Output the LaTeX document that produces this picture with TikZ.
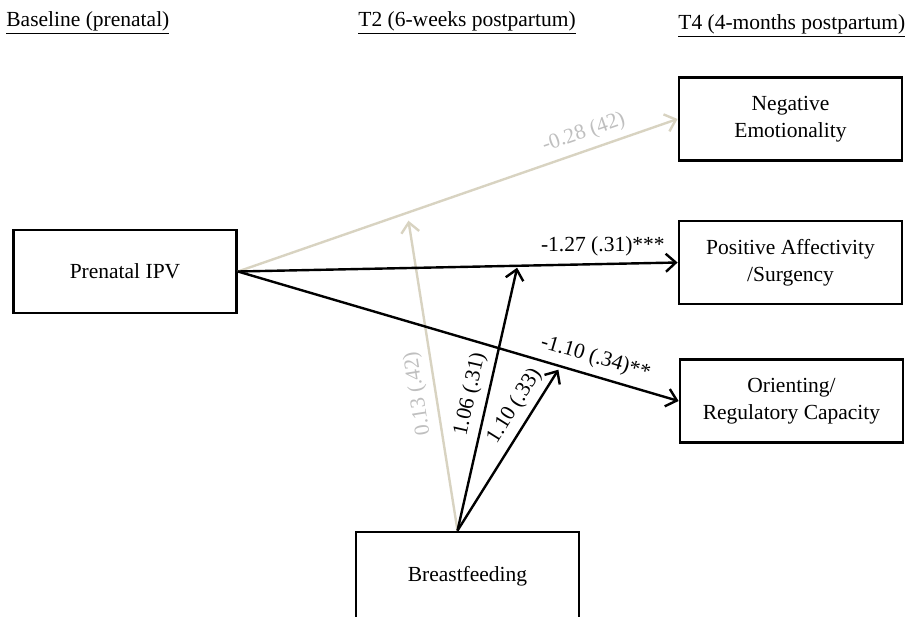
\documentclass[tikz,border=0pt]{standalone}
\usepackage{fontspec}
\setmainfont{Liberation Serif}
\definecolor{GrisCheminNS}{HTML}{D8D3C1}
\definecolor{GrisTexteNS}{HTML}{BFBFBF}
\usetikzlibrary{arrows.meta}
\usetikzlibrary{calc}

\begin{document}
\begin{tikzpicture}
	[x=0.5pt, y=-0.5pt,
	every node/.style = {font=\fontsize{10.75}{13.3}\selectfont},
	boite/.style = {shape=rectangle, draw=black, line width=1.4pt, align=center,
		minimum width=111.5pt, minimum height=41.5pt},
	entete/.style = {anchor=base west, inner sep=0pt},
	chemin/.style = {draw=black, line width=1.2pt, -{Straight Barb[length=5pt,width=9pt]}},
	cheminNS/.style = {chemin, draw=GrisCheminNS},
	coefNS/.style = {text=GrisTexteNS}]
	\clip (0,0) rectangle (905,616);
	% temps de mesure
	\node[entete] (t0) at (6,26) {\underline{Baseline (prenatal)}};
	\node[entete] (t2) at (358,26) {\underline{T2 (6-weeks postpartum)}};
	\node[entete] (t4) at (678,29) {\underline{T4 (4-months postpartum)}};
	% variables
	\node[boite] (prenatal) at (125,271.5) {Prenatal IPV};
	\node[boite] (negemo) at (790.5,119) {Negative\\Emotionality};
	\node[boite] (posaff) at (790.5,262.5) {Positive Affectivity\\/Surgency};
	\node[boite] (orient) at (791.5,401) {Orienting/\\Regulatory Capacity};
	\node[boite, minimum height=44pt] (bf) at (467.5,576) {Breastfeeding};
	% points de moderation
	\coordinate (mNE) at ($(prenatal.east)!0.385!(negemo.west)$);
	\coordinate (mPA) at ($(prenatal.east)!0.636!(posaff.west)$);
	\coordinate (mOR) at ($(prenatal.east)!0.732!(orient.west)$);
	\coordinate (depart) at ($(bf.north)+(-10,0)$);
	% chemins non significatifs
	\draw[cheminNS] (prenatal.east) -- node[coefNS, sloped, above, pos=0.8] (c1) {-0.28 (42)} (negemo.west);
	\draw[cheminNS, shorten >=4pt] (depart) -- node[coefNS, sloped, allow upside down, above, pos=0.44] (c4) {0.13 (.42)} (mNE);
	% chemins significatifs
	\draw[chemin] (prenatal.east) -- node[above, pos=0.83] (c2) {-1.27 (.31)***} (posaff.west);
	\draw[chemin] (prenatal.east) -- node[sloped, above, pos=0.8] (c3) {-1.10 (.34)**} (orient.west);
	\draw[chemin, shorten >=1pt] (depart) -- node[sloped, above, pos=0.5] (c5) {1.06 (.31)} (mPA);
	\draw[chemin, shorten >=2pt] (depart) -- node[sloped, above, pos=0.7] (c6) {1.10 (.33)} (mOR);
\end{tikzpicture}
\end{document}
